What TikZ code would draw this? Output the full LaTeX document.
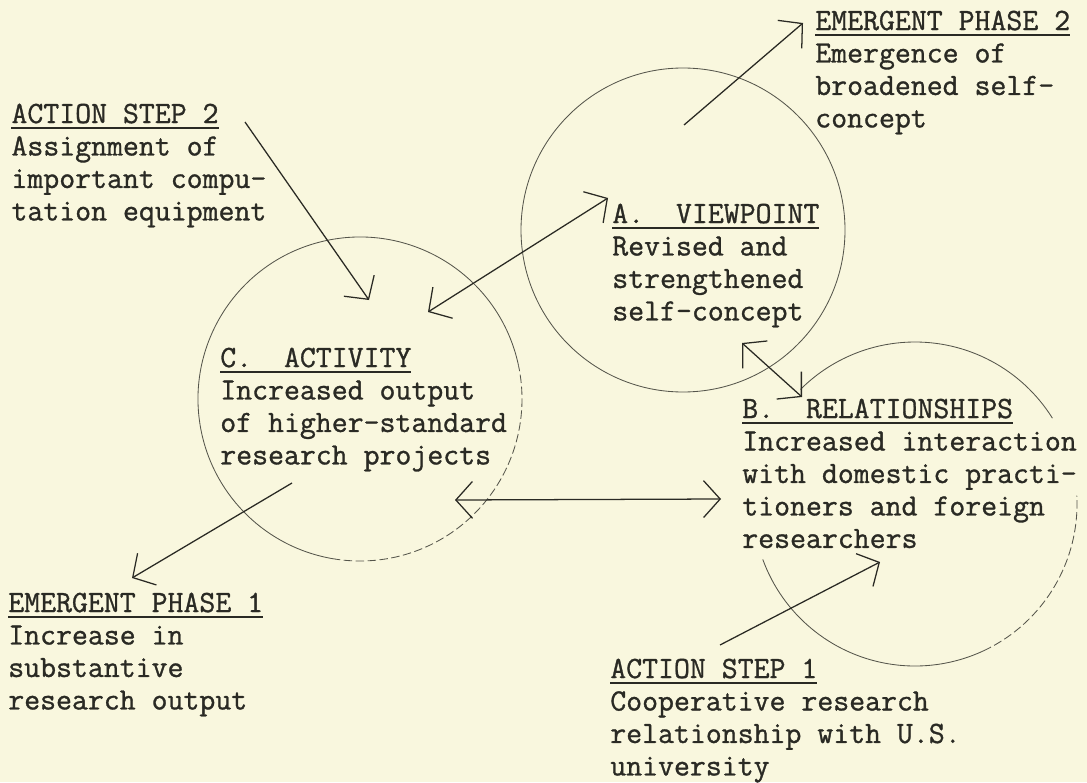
\documentclass[tikz,border=0pt]{standalone}
\usepackage{fontspec}
\newfontfamily\typewriter{Latin Modern Mono}[FakeBold=1]
\usetikzlibrary{arrows.meta, calc}
\definecolor{paper}{HTML}{F9F7DE}
\definecolor{ink}{HTML}{2A2A24}
\definecolor{pencil}{HTML}{55554B}
\newcommand{\headul}[1]{\setbox0=\hbox{#1}\rlap{\rule[-4.6pt]{\wd0}{1.5pt}}\box0}

\begin{document}
\begin{tikzpicture}[
    >={Straight Barb[angle=96:0.62cm]},
    lbl/.style={anchor=base west, inner sep=0pt, align=left, text=ink,
      font=\typewriter\fontsize{22}{23.1}\selectfont},
    ring/.style={draw=pencil, line width=0.6pt},
    faint/.style={ring, dash pattern=on 6pt off 2.5pt},
    arr/.style={->, draw=ink, line width=0.9pt},
    darr/.style={<->, draw=ink, line width=0.9pt}
  ]
  \fill[paper] (0,0) rectangle (27.175,-19.55);
  \useasboundingbox (0,0) rectangle (27.175,-19.55);

  % the three circles
  \coordinate (viewCtr) at (17.075,-5.75);
  \coordinate (actCtr) at (9.0,-9.975);
  \coordinate (relCtr) at (22.875,-12.6);
  \draw[ring] (viewCtr) circle[radius=4.05];
  \draw[ring] (actCtr) ++(12:4.05) arc[start angle=12, end angle=260, radius=4.05];
  \draw[faint] (actCtr) ++(-100:4.05) arc[start angle=-100, end angle=12, radius=4.05];
  \draw[ring] (relCtr) ++(32:4.05) arc[start angle=32, end angle=135, radius=4.05];
  \draw[ring] (relCtr) ++(-160:4.05) arc[start angle=-160, end angle=-65, radius=4.05];
  \draw[faint] (relCtr) ++(-65:4.05) arc[start angle=-65, end angle=3, radius=4.05];

  % labels (placed by the baseline of their last line)
  \node[lbl] (as2) at (0.28,-5.511) {\headul{ACTION STEP 2}\\Assignment of\\important compu-\\tation equipment};
  \node[lbl] (ep2) at (20.375,-3.186) {\headul{EMERGENT PHASE 2}\\Emergence of\\broadened self-\\concept};
  \node[lbl] (viewpt) at (15.3,-8.011) {\headul{A.\ \ VIEWPOINT}\\Revised and\\strengthened\\self-concept};
  \node[lbl] (activ) at (5.5,-11.611) {\headul{C.\ \ ACTIVITY}\\Increased output\\of higher-standard\\research projects};
  \node[lbl] (relat) at (18.55,-13.698) {\headul{B.\ \ RELATIONSHIPS}\\Increased interaction\\with domestic practi-\\tioners and foreign\\researchers};
  \node[lbl] (ep1) at (0.2,-17.736) {\headul{EMERGENT PHASE 1}\\Increase in\\substantive\\research output};
  \node[lbl] (as1) at (15.25,-19.386) {\headul{ACTION STEP 1}\\Cooperative research\\relationship with U.S.\\university};

  % arrow ends
  \coordinate (as2Tail) at (6.125,-3.05);
  \coordinate (as2Tip) at (9.225,-7.5);
  \coordinate (actToView) at (10.7,-7.8);
  \coordinate (viewToAct) at (15.2,-4.95);
  \coordinate (ep2Tail) at (17.1,-3.125);
  \coordinate (ep2Tip) at (20.075,-0.575);
  \coordinate (viewToRel) at (18.55,-8.575);
  \coordinate (relToView) at (20.05,-9.925);
  \coordinate (actToRel) at (11.375,-12.5);
  \coordinate (relToAct) at (18.025,-12.475);
  \coordinate (ep1Tail) at (7.3,-12.075);
  \coordinate (ep1Tip) at (3.3,-14.45);
  \coordinate (as1Tail) at (18.0,-16.125);
  \coordinate (as1Tip) at (22.0,-14.05);

  \draw[arr] (as2Tail) -- (as2Tip);
  \draw[darr] (actToView) -- (viewToAct);
  \draw[arr] (ep2Tail) -- (ep2Tip);
  \draw[darr] (viewToRel) -- (relToView);
  \draw[darr] (actToRel) -- (relToAct);
  \draw[arr] (ep1Tail) -- (ep1Tip);
  \draw[arr] (as1Tail) -- (as1Tip);
\end{tikzpicture}
\end{document}
